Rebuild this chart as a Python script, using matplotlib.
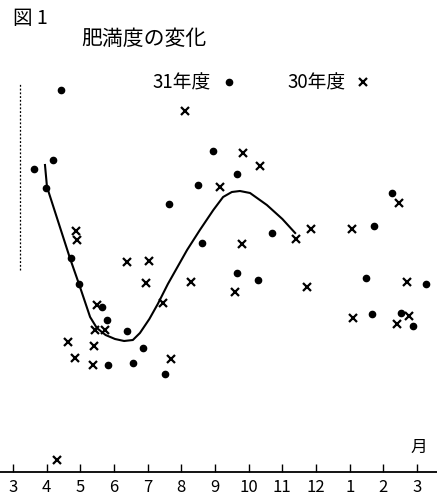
import numpy as np
import matplotlib.pyplot as plt

plt.rcParams['font.family'] = ['Noto Sans CJK JP', 'DejaVu Sans']

# months counted from March (0 = 3月 ... 12 = next 3月)
month_labels = ['3', '4', '5', '6', '7', '8', '9', '10', '11', '12', '1', '2', '3']

# 31年度 (dots): month position, relative obesity level
y31_month = [0.62, 1.19, 1.43, 0.98, 1.72, 1.96, 2.64, 2.79, 3.39, 3.86, 2.82, 3.56,
             4.51, 5.94, 5.49, 4.63, 5.61, 6.65, 7.69, 6.65, 7.28, 11.26, 10.72,
             10.48, 12.27, 10.66, 11.52, 11.88]
y31_level = [303, 312, 382, 284, 214, 188, 165, 152, 141, 124, 107, 109,
             98, 321, 287, 268, 229, 298, 239, 199, 192, 279, 246,
             194, 188, 158, 159, 146]

# 30年度 (crosses)
y30_month = [5.11, 1.87, 1.90, 3.39, 4.04, 3.95, 5.29, 2.49, 4.45, 1.63, 2.41, 2.73,
             2.44, 1.84, 2.38, 4.69, 6.83, 6.15, 7.34, 6.80, 8.41, 8.85, 10.07,
             11.46, 6.59, 8.73, 11.70, 10.10, 11.76, 11.40, 1.31]
y30_level = [361, 241, 232, 210, 211, 189, 190, 167, 169, 130, 126, 142,
             142, 114, 107, 113, 319, 285, 306, 228, 233, 243, 243,
             269, 180, 185, 190, 154, 156, 148, 12]

# hand-drawn trend curve
trend_month = [0.95, 1.01, 1.69, 1.96, 2.29, 2.49, 2.75, 3.03, 3.30, 3.56, 3.77, 4.05,
               4.30, 4.60, 5.17, 5.55, 5.95, 6.24, 6.50, 6.74, 7.04, 7.54, 8.00, 8.38]
trend_level = [307, 285, 214, 188, 155, 144, 137, 133, 131, 132, 139, 153,
               168, 188, 222, 242, 262, 275, 280, 281, 279, 267, 253, 239]

fig = plt.figure(figsize=(4.37, 4.95), dpi=100)
ax = fig.add_axes([0, 0, 1, 1])
ax.set_xlim(-0.386, 12.593)
ax.set_ylim(-23, 472)

ax.plot(trend_month, trend_level, color='black', lw=1.5, zorder=2)
ax.plot(y31_month, y31_level, 'o', color='black', ms=4.5, ls='none',
        label='31年度', zorder=3)
ax.plot(y30_month, y30_level, 'x', color='black', ms=5.5, mew=1.6, ls='none',
        label='30年度', zorder=3)

# dotted left guide
ax.vlines(0.21, 202, 389, color='black', lw=0.9, linestyles=(0, (1.5, 1.5)))

for side in ['left', 'right', 'top']:
    ax.spines[side].set_visible(False)
ax.spines['bottom'].set_position(('data', 0))
ax.spines['bottom'].set_linewidth(1.3)
ax.set_xticks(range(len(month_labels)))
ax.set_xticklabels(month_labels, fontsize=12)
ax.tick_params(axis='x', direction='in', length=6, width=1, pad=5)
ax.set_yticks([])
ax.text(12.05, 16, '月', fontsize=12, ha='center', va='bottom')

fig.text(0.03, 0.963, '図 1', fontsize=14, va='center', ha='left')
fig.text(0.33, 0.921, '肥満度の変化', fontsize=15, va='center', ha='center')

ax.legend(loc='center left', bbox_to_anchor=(0.35, 0.832), bbox_transform=fig.transFigure,
          ncol=2, frameon=False, markerfirst=False, fontsize=13.5, handlelength=1.0,
          handletextpad=0.45, columnspacing=2.6, borderpad=0, borderaxespad=0)

fig.savefig('out.png', dpi=100)
